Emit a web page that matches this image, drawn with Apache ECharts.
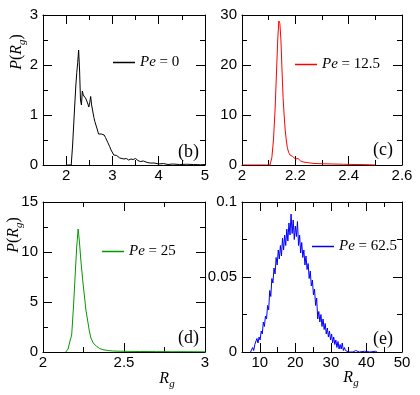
<!DOCTYPE html>
<html>
<head>
<meta charset="utf-8">
<script src="https://cdn.jsdelivr.net/npm/echarts@6/dist/echarts.min.js"></script>
<style>
  html, body { margin: 0; padding: 0; background: #fff; }
  #main { width: 420px; height: 395px; }
</style>
</head>
<body>
<div id="main"></div>
<script>
// (b) Pe = 0
var bX = [2.0, 2.11, 2.14, 2.18, 2.21, 2.23, 2.25, 2.27, 2.29, 2.31, 2.33, 2.35, 2.37, 2.40, 2.43, 2.45, 2.47, 2.49, 2.51, 2.53, 2.55, 2.57, 2.60, 2.62, 2.65, 2.67, 2.70, 2.73, 2.76, 2.79, 2.82, 2.85, 2.87, 2.90, 2.94, 2.97, 3.00, 3.03, 3.06, 3.09, 3.12, 3.16, 3.20, 3.25, 3.30, 3.35, 3.40, 3.45, 3.50, 3.55, 3.60, 3.67, 3.75, 3.82, 3.90, 4.0, 4.1, 4.2, 4.3, 4.45, 4.6, 4.75, 4.9, 5.0];
var bY = [0, 0, 0.4, 1.1, 1.6, 1.85, 2.05, 2.3, 1.9, 1.3, 1.2, 1.48, 1.4, 1.38, 1.32, 1.3, 1.22, 1.16, 1.25, 1.37, 1.2, 1.1, 0.95, 0.87, 0.78, 0.72, 0.62, 0.6, 0.62, 0.58, 0.6, 0.55, 0.53, 0.45, 0.37, 0.3, 0.27, 0.2, 0.24, 0.19, 0.21, 0.14, 0.15, 0.12, 0.13, 0.1, 0.12, 0.11, 0.13, 0.09, 0.07, 0.08, 0.05, 0.04, 0.04, 0.02, 0.03, 0.01, 0.02, 0.01, 0.015, 0.01, 0.005, 0.01];
var bTickX = [2, 3, 4, 5], bMinorX = [2.5, 3.5, 4.5];
var bTickY = [0, 1, 2, 3], bMinorY = [0.5, 1.5, 2.5];

// (c) Pe = 12.5
var cX = [2.0, 2.105, 2.112, 2.118, 2.124, 2.129, 2.134, 2.138, 2.142, 2.146, 2.150, 2.154, 2.158, 2.162, 2.166, 2.170, 2.175, 2.18, 2.19, 2.20, 2.21, 2.22, 2.23, 2.25, 2.27, 2.30, 2.34, 2.38, 2.42, 2.46, 2.50];
var cY = [0, 0, 1.5, 5, 11, 18, 25, 28.8, 28.3, 25, 19, 13.5, 10, 7, 5, 3.5, 2.5, 2, 1.7, 1.2, 1.3, 0.8, 0.6, 0.45, 0.3, 0.25, 0.2, 0.15, 0.1, 0.08, 0];
var cTickX = [2, 2.2, 2.4, 2.6], cMinorX = [2.1, 2.3, 2.5];
var cTickY = [0, 10, 20, 30], cMinorY = [5, 15, 25];

// (d) Pe = 25
var dX = [2.14, 2.155, 2.165, 2.177, 2.188, 2.198, 2.208, 2.217, 2.225, 2.234, 2.245, 2.255, 2.265, 2.276, 2.286, 2.296, 2.31, 2.33, 2.35, 2.37, 2.40, 2.43, 2.5, 2.6, 2.7, 2.8, 2.9, 3.0];
var dY = [0, 0.3, 1.0, 1.7, 4.5, 7.5, 10.5, 12.3, 11.0, 9.1, 7.2, 5.7, 4.2, 3.1, 2.1, 1.4, 0.9, 0.57, 0.35, 0.23, 0.15, 0.1, 0.07, 0.05, 0.04, 0.03, 0.03, 0.02];
var dTickX = [2, 2.5, 3], dMinorX = [2.25, 2.75];
var dTickY = [0, 5, 10, 15], dMinorY = [2.5, 7.5, 12.5];

// (e) Pe = 62.5
var eX = [7.4, 7.7, 8.0, 8.3, 8.6, 8.9, 9.2, 9.5, 9.8, 10.1, 10.4, 10.7, 11.0, 11.3, 11.6, 11.9, 12.2, 12.5, 12.8, 13.1, 13.4, 13.7, 14.0, 14.3, 14.6, 14.9, 15.2, 15.5, 15.8, 16.1, 16.4, 16.7, 17.0, 17.3, 17.6, 17.9, 18.2, 18.5, 18.8, 19.1, 19.4, 19.7, 20.0, 20.3, 20.6, 20.9, 21.2, 21.5, 21.8, 22.1, 22.4, 22.7, 23.0, 23.3, 23.6, 23.9, 24.2, 24.5, 24.8, 25.1, 25.4, 25.7, 26.0, 26.3, 26.6, 26.9, 27.2, 27.5, 27.8, 28.1, 28.4, 28.7, 29.0, 29.3, 29.6, 29.9, 30.2, 30.5, 30.8, 31.1, 31.4, 31.7, 32.0, 32.3, 32.6, 32.9, 33.2, 33.5, 33.8, 34.1, 34.5, 35.0, 35.5, 36.2, 37.0, 38.0, 39.5, 41.0, 42.5, 43.0];
var eY = [0, 0.001, 0.003, 0.001, 0.005, 0.004, 0.009, 0.006, 0.010, 0.008, 0.014, 0.012, 0.020, 0.017, 0.024, 0.022, 0.031, 0.028, 0.041, 0.037, 0.049, 0.046, 0.056, 0.052, 0.063, 0.058, 0.068, 0.062, 0.071, 0.064, 0.076, 0.068, 0.078, 0.071, 0.082, 0.074, 0.086, 0.078, 0.092, 0.079, 0.088, 0.075, 0.084, 0.077, 0.087, 0.071, 0.078, 0.066, 0.073, 0.063, 0.068, 0.058, 0.064, 0.055, 0.059, 0.049, 0.054, 0.044, 0.048, 0.038, 0.042, 0.031, 0.036, 0.022, 0.027, 0.020, 0.025, 0.017, 0.022, 0.015, 0.019, 0.012, 0.016, 0.010, 0.014, 0.008, 0.012, 0.006, 0.010, 0.005, 0.008, 0.003, 0.007, 0.002, 0.005, 0.002, 0.006, 0.001, 0.003, 0.001, 0.002, 0, 0.001, 0, 0.001, 0, 0.0005, 0, 0.0005, 0];
var eTickX = [10, 20, 30, 40, 50], eMinorX = [15, 25, 35, 45];
var eTickY = [0, 0.05, 0.1], eMinorY = [0.025, 0.075];

var names = ['Pe = 0', 'Pe = 12.5', 'Pe = 25', 'Pe = 62.5'];
var colors = ['#000000', '#ff0000', '#009a00', '#0000ff'];

var sans = 'Liberation Sans, Arial, sans-serif';
var serif = 'Liberation Serif, Times New Roman, serif';

var grids = [
  { left: 43, top: 15, width: 162, height: 150 },
  { left: 242, top: 15, width: 160, height: 150 },
  { left: 43, top: 202, width: 162, height: 150 },
  { left: 242, top: 202, width: 160, height: 150 }
];

var panels = [
  { x: bX, y: bY, xr: [1.5, 5], yr: [0, 3], tx: bTickX, mx: bMinorX, ty: bTickY, my: bMinorY },
  { x: cX, y: cY, xr: [2, 2.6], yr: [0, 30], tx: cTickX, mx: cMinorX, ty: cTickY, my: cMinorY },
  { x: dX, y: dY, xr: [2, 3], yr: [0, 15], tx: dTickX, mx: dMinorX, ty: dTickY, my: dMinorY },
  { x: eX, y: eY, xr: [5, 50], yr: [0, 0.1], tx: eTickX, mx: eMinorX, ty: eTickY, my: eMinorY }
];

// four axes per side pair: main side with labels, opposite side mirrored, each split in major/minor
function makeAxes(g, range, major, minor, dim) {
  var sides = dim === 'x' ? ['bottom', 'top'] : ['left', 'right'];
  var out = [];
  sides.forEach(function (pos, si) {
    [major, minor].forEach(function (vals, mi) {
      out.push({
        type: 'value', gridIndex: g, position: pos,
        min: range[0], max: range[1],
        axisLine: { show: mi === 0, onZero: false, lineStyle: { color: '#000', width: 1 } },
        axisTick: { show: true, inside: true, length: mi === 0 ? 9 : 5, customValues: vals,
                    lineStyle: { color: '#000', width: 1 } },
        axisLabel: { show: si === 0 && mi === 0, customValues: vals, color: '#000',
                     fontFamily: sans, fontSize: 15, margin: dim === 'x' ? 3 : 5 },
        splitLine: { show: false }
      });
    });
  });
  return out;
}

var xAxes = [], yAxes = [], series = [];
panels.forEach(function (p, g) {
  xAxes = xAxes.concat(makeAxes(g, p.xr, p.tx, p.mx, 'x'));
  yAxes = yAxes.concat(makeAxes(g, p.yr, p.ty, p.my, 'y'));
  series.push({
    name: names[g], type: 'line', xAxisIndex: g * 4, yAxisIndex: g * 4,
    data: p.x.map(function (v, i) { return [v, p.y[i]]; }),
    symbol: 'none', silent: true,
    lineStyle: { color: colors[g], width: 1 },
    itemStyle: { color: colors[g] }
  });
});

var legendPos = [[113, 55], [295, 57], [102, 244], [312, 239]];
var legends = legendPos.map(function (lp, i) {
  return {
    data: [names[i]], left: lp[0], top: lp[1], padding: 0,
    icon: 'rect', itemWidth: 22, itemHeight: 1.5, selectedMode: false,
    formatter: function (n) { return '{i|Pe}{n| = ' + n.split(' = ')[1] + '}'; },
    textStyle: {
      rich: {
        i: { fontFamily: serif, fontStyle: 'italic', fontSize: 15, color: '#000' },
        n: { fontFamily: serif, fontSize: 15, color: '#000' }
      }
    }
  };
});

var rich = {
  i: { fontFamily: serif, fontStyle: 'italic', fontSize: 16, fill: '#000' },
  n: { fontFamily: serif, fontSize: 16, fill: '#000' },
  s: { fontFamily: serif, fontStyle: 'italic', fontSize: 11, fill: '#000', verticalAlign: 'top', padding: [10, 0, 0, 0] }
};

function tag(txt, x, y) {
  return { type: 'text', x: x, y: y, silent: true,
           style: { text: txt, font: '18px ' + serif, fill: '#000', align: 'right', verticalAlign: 'middle' } };
}

var graphics = [
  tag('(b)', 199, 152), tag('(c)', 393, 150), tag('(d)', 199, 338), tag('(e)', 393, 339),
  { type: 'text', x: 17, y: 52, rotation: Math.PI / 2, silent: true,
    style: { text: '{i|P}{n|(}{i|R}{s|g}{n|)}', rich: rich, align: 'center', verticalAlign: 'middle' } },
  { type: 'text', x: 14, y: 235, rotation: Math.PI / 2, silent: true,
    style: { text: '{i|P}{n|(}{i|R}{s|g}{n|)}', rich: rich, align: 'center', verticalAlign: 'middle' } },
  { type: 'text', x: 167, y: 379, silent: true,
    style: { text: '{i|R}{s|g}', rich: rich, align: 'center', verticalAlign: 'middle' } },
  { type: 'text', x: 351, y: 378, silent: true,
    style: { text: '{i|R}{s|g}', rich: rich, align: 'center', verticalAlign: 'middle' } }
];

var chart = echarts.init(document.getElementById('main'));
chart.setOption({
  animation: false,
  backgroundColor: '#fff',
  grid: grids,
  xAxis: xAxes,
  yAxis: yAxes,
  legend: legends,
  series: series,
  graphic: graphics
});
</script>
</body>
</html>
